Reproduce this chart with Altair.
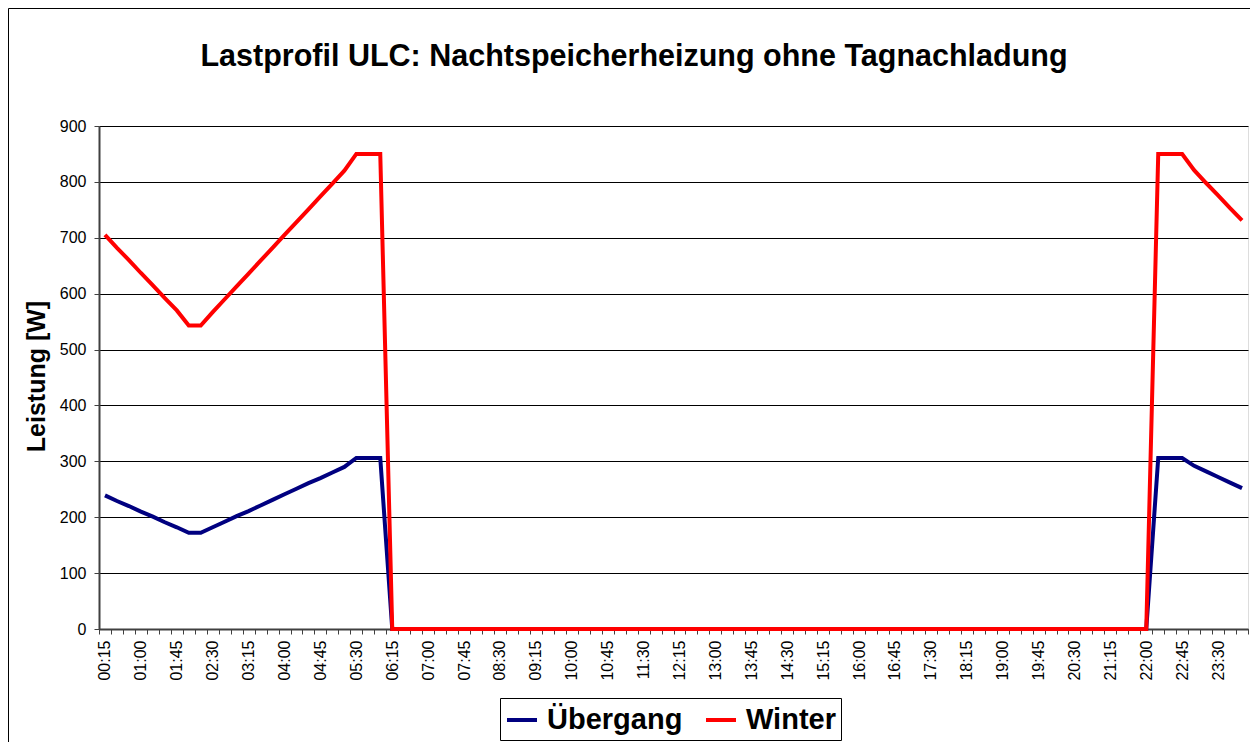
import altair as alt
import pandas as pd

FONT = "Liberation Sans"

# 96 quarter-hour categories, 00:15 ... 24:00
times = [f"{m // 60:02d}:{m % 60:02d}" for m in range(15, 1441, 15)]

uebergang = [
    239, 229, 220, 210, 201, 191, 182, 172, 172, 182, 192, 202,
    211, 221, 231, 241, 251, 261, 270, 280, 290, 306, 306, 306,
    0, 0, 0, 0, 0, 0, 0, 0, 0, 0, 0, 0, 0, 0, 0, 0,
    0, 0, 0, 0, 0, 0, 0, 0, 0, 0, 0, 0, 0, 0, 0, 0,
    0, 0, 0, 0, 0, 0, 0, 0, 0, 0, 0, 0, 0, 0, 0, 0,
    0, 0, 0, 0, 0, 0, 0, 0, 0, 0, 0, 0, 0, 0, 0, 0,
    306, 306, 306, 292, 282, 272, 262, 252,
]

winter = [
    705, 682, 660, 637, 615, 592, 570, 543, 543, 567, 590, 613,
    636, 659, 682, 705, 728, 751, 774, 797, 820, 850, 850, 850,
    0, 0, 0, 0, 0, 0, 0, 0, 0, 0, 0, 0, 0, 0, 0, 0,
    0, 0, 0, 0, 0, 0, 0, 0, 0, 0, 0, 0, 0, 0, 0, 0,
    0, 0, 0, 0, 0, 0, 0, 0, 0, 0, 0, 0, 0, 0, 0, 0,
    0, 0, 0, 0, 0, 0, 0, 0, 0, 0, 0, 0, 0, 0, 0, 0,
    850, 850, 850, 821, 798, 776, 753, 731,
]

series_names = ["Übergang", "Winter"]
series_colors = ["#000080", "#FF0000"]
y_ticks = [0, 100, 200, 300, 400, 500, 600, 700, 800, 900]

title_text = "Lastprofil ULC: Nachtspeicherheizung ohne Tagnachladung"

df = pd.DataFrame({
    "Zeit": times + times,
    "Leistung": uebergang + winter,
    "Serie": [series_names[0]] * len(times) + [series_names[1]] * len(times),
})

W, H = 1149, 503

label_expr = ("(toNumber(substring(datum.value,0,2))*60 + "
              "toNumber(substring(datum.value,3,5))) % 45 == 15 ? datum.value : ''")

lines = alt.Chart(df).mark_line(strokeWidth=4).encode(
    x=alt.X(
        "Zeit:O",
        sort=times,
        scale=alt.Scale(type="band", paddingInner=0, paddingOuter=0),
        axis=alt.Axis(
            title=None,
            labelAngle=-90,
            labelFont=FONT,
            labelFontSize=16,
            labelColor="black",
            labelExpr=label_expr,
            labelOverlap=False,
            labelPadding=6,
            tickBand="extent",
            tickSize=5,
            tickColor="#404040",
            domainColor="#404040",
            domainWidth=2,
            grid=False,
        ),
    ),
    y=alt.Y(
        "Leistung:Q",
        scale=alt.Scale(domain=[0, 900], nice=False),
        axis=alt.Axis(
            values=y_ticks,
            title="Leistung [W]",
            titleFont=FONT,
            titleFontSize=25,
            titleFontWeight="bold",
            titleColor="black",
            titleX=-63,
            titleY=250,
            titleAlign="center",
            titleBaseline="middle",
            labelFont=FONT,
            labelFontSize=16,
            labelColor="black",
            labelPadding=8,
            tickSize=5,
            tickColor="#404040",
            domainColor="#404040",
            domainWidth=2,
            gridColor="black",
            gridWidth=1,
        ),
    ),
    color=alt.Color(
        "Serie:N",
        scale=alt.Scale(domain=series_names, range=series_colors),
        legend=alt.Legend(
            title=None,
            orient="none",
            legendX=401,
            legendY=572,
            direction="horizontal",
            symbolType="stroke",
            symbolSize=900,
            symbolStrokeWidth=4,
            labelFont=FONT,
            labelFontSize=29,
            labelFontWeight="bold",
            labelColor="black",
            labelLimit=400,
            labelOffset=8,
            columnPadding=15,
            strokeColor="black",
            fillColor="white",
            padding=5,
        ),
    ),
)

title = alt.Chart(pd.DataFrame({"t": [title_text]})).mark_text(
    font=FONT, fontSize=30.5, fontWeight="bold", color="black",
    align="center", baseline="alphabetic",
).encode(
    text="t:N",
    x=alt.value(535),
    y=alt.value(-60),
)

frame = alt.Chart(pd.DataFrame({"a": [0]})).mark_rect(
    fill="white", fillOpacity=0, stroke="black", strokeWidth=1
).encode(
    x=alt.value(-90.5), x2=alt.value(1300),
    y=alt.value(-117.5), y2=alt.value(800),
)

chart = alt.layer(lines, title, frame).properties(
    width=W,
    height=H,
    autosize=alt.AutoSizeParams(type="none"),
    padding={"left": 91, "top": 118, "right": 2, "bottom": 113},
).configure_view(
    stroke="#808080", strokeWidth=2
).configure(background="white")

chart.save("out.html", embed_options={"renderer": "svg", "actions": False})
